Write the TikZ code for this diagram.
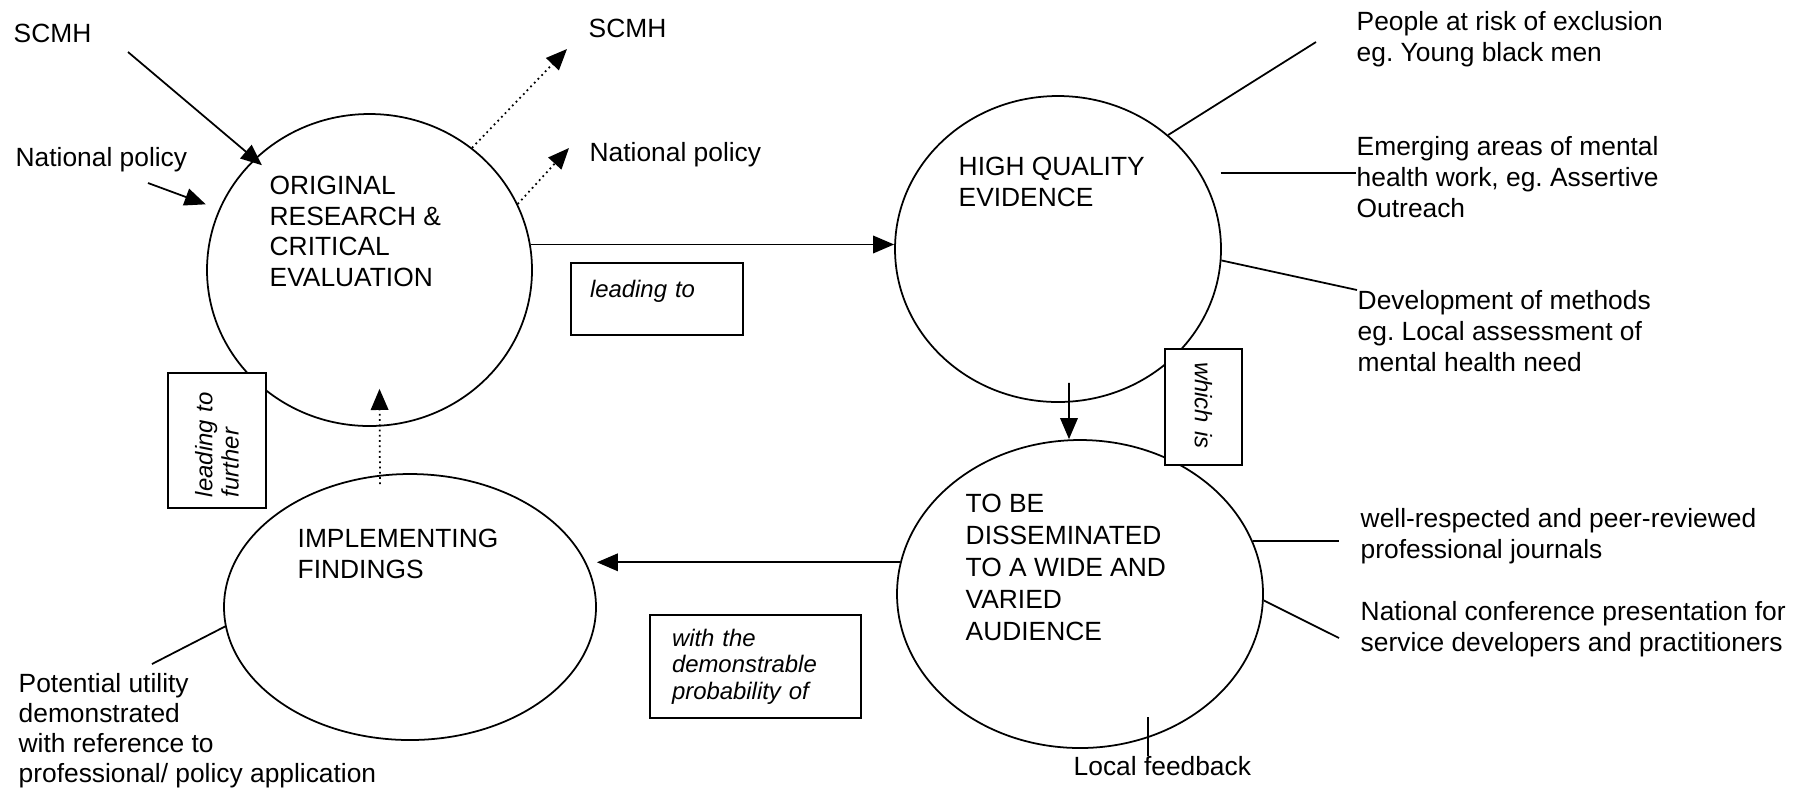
\documentclass[tikz,border=0pt]{standalone}
\usepackage{fontspec}
\setmainfont{Liberation Sans}
\usepackage{tikz}
\usetikzlibrary{arrows.meta}
\usetikzlibrary{shapes.geometric}

\tikzset{
  bubble/.style={draw, ellipse, inner sep=0pt, line width=0.5pt},
  words/.style={anchor=north west, inner sep=0pt, align=left, font=\fontsize{7.5}{8.8}\selectfont},
  note/.style={draw, fill=white, align=left, line width=0.5pt, font=\fontsize{6.8}{7.5}\selectfont\itshape},
  arr/.style={-{Triangle[length=6pt,width=5pt]}, line width=0.5pt},
  dotarr/.style={arr, densely dotted},
  link/.style={line width=0.5pt}
}

\begin{document}
\begin{tikzpicture}
        \useasboundingbox (0,0) rectangle (18.11,-7.90);

        \node[bubble, minimum width=3.25cm, minimum height=3.12cm] (orig) at (3.695,-2.70) {};
        \node[bubble, minimum width=3.26cm, minimum height=3.06cm] (evid) at (10.58,-2.49) {};
        \node[bubble, minimum width=3.66cm, minimum height=3.08cm] (dissem) at (10.80,-5.94) {};
        \node[bubble, minimum width=3.72cm, minimum height=2.66cm] (impl) at (4.10,-6.07) {};

        \node[words] (origTxt) at (2.69,-1.75) {ORIGINAL\\RESEARCH \&\\CRITICAL\\EVALUATION};
        \node[words] (evidTxt) at (9.58,-1.56) {HIGH QUALITY\\EVIDENCE};
        \node[words, font=\fontsize{7.5}{9.1}\selectfont] (dissemTxt) at (9.65,-4.93) {TO BE\\DISSEMINATED\\TO A WIDE AND\\VARIED\\AUDIENCE};
        \node[words] (implTxt) at (2.97,-5.28) {IMPLEMENTING\\FINDINGS};

        \node[words] (scmhIn) at (0.13,-0.23) {SCMH};
        \node[words] (natIn) at (0.15,-1.47) {National policy};
        \node[words] (scmhOut) at (5.88,-0.18) {SCMH};
        \node[words] (natOut) at (5.89,-1.42) {National policy};
        \node[words] (people) at (13.56,-0.11) {People at risk of exclusion\\eg.\ Young black men};
        \node[words] (emerg) at (13.56,-1.36) {Emerging areas of mental\\health work, eg.\ Assertive\\Outreach};
        \node[words] (devel) at (13.57,-2.90) {Development of methods\\eg.\ Local assessment of\\mental health need};
        \node[words] (journ) at (13.60,-5.08) {well-respected and peer-reviewed\\professional journals};
        \node[words] (confer) at (13.60,-6.01) {National conference presentation for\\service developers and practitioners};
        \node[words] (feedback) at (10.73,-7.56) {Local feedback};
        \node[words, font=\fontsize{7.5}{8.5}\selectfont] (potent) at (0.18,-6.73) {Potential utility\\demonstrated\\with reference to\\professional/ policy application};

        \node[note, text width=1.34cm, inner xsep=0.19cm, inner ysep=0.1cm, text height=0.245cm, text depth=0.275cm] (ledto) at (6.57,-2.99) {leading to};
        \node[note, rotate=-90, text width=0.90cm, inner xsep=0.13cm, minimum height=0.77cm] (which) at (12.035,-4.07) {which is};
        \node[note, text width=1.67cm, inner xsep=0.22cm, minimum height=1.03cm] (prob) at (7.555,-6.665) {with the\\demonstrable\\probability of};
        \node[note, rotate=90, text width=1.13cm, inner xsep=0.11cm, minimum height=0.98cm] (further) at (2.17,-4.405) {leading to\\further};

        \coordinate (scmhStart) at (1.28,-0.52);
        \coordinate (natStart) at (1.48,-1.83);
        \coordinate (scmhTip) at (5.67,-0.49);
        \coordinate (natTip) at (5.69,-1.48);
        \coordinate (peopleEnd) at (13.16,-0.42);
        \coordinate (conferEnd) at (13.39,-6.38);
        \coordinate (feedTop) at (11.48,-7.17);
        \coordinate (potentEnd) at (1.52,-6.64);

        \draw[arr, shorten >=-0.1cm] (scmhStart) -- (orig.136);
        \draw[arr, shorten >=0.14cm] (natStart) -- (orig.158);
        \draw[dotarr] (orig.50) -- (scmhTip);
        \draw[dotarr] (orig.24) -- (natTip);
        \draw[arr] (orig.9) -- (orig.9 -| evid.west);
        \draw[arr] ([xshift=0.11cm,yshift=0.2cm]evid.south) -- ([xshift=-0.11cm]dissem.north);
        \draw[arr] (dissem.170) -- (dissem.170 -| impl.east);
        \draw[dotarr] ([xshift=-0.3cm,yshift=-0.11cm]impl.north) -- ([xshift=0.1cm,yshift=0.38cm]orig.south);

        \draw[link] (evid.46) -- (peopleEnd);
        \draw[link, shorten <=0.2cm] (evid.28) -- (evid.28 -| emerg.west);
        \draw[link] (evid.-4) -- (devel.north west);
        \draw[link, shorten >=0.21cm] (dissem.17) -- (dissem.17 -| journ.west);
        \draw[link] (dissem.-2) -- (conferEnd);
        \draw[link] (feedTop) -- (feedTop |- feedback.north);
        \draw[link] (impl.186) -- (potentEnd);
    \end{tikzpicture}
\end{document}
